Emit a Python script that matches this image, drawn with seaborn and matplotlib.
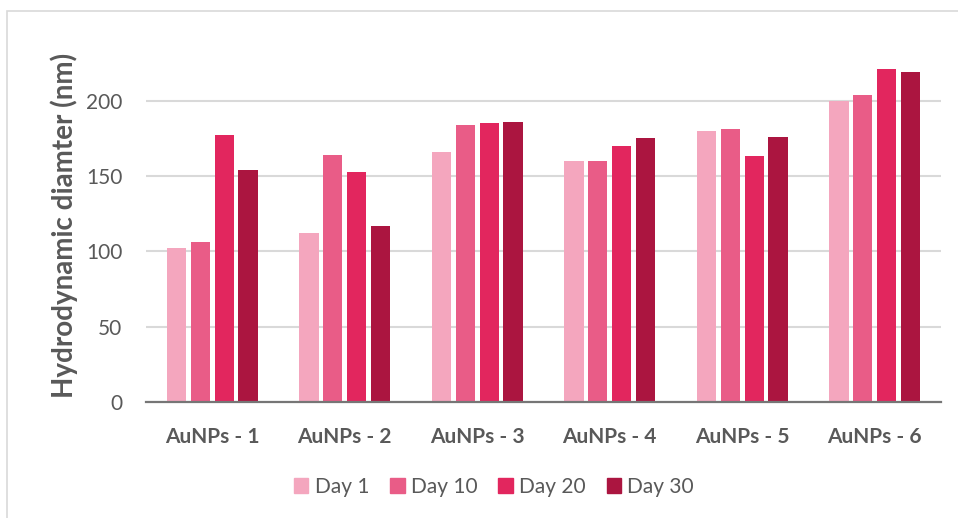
import matplotlib
matplotlib.use("Agg")
import matplotlib.pyplot as plt
import matplotlib.patches as mpatches
import seaborn as sns
import pandas as pd

# Hydrodynamic diameter (nm) of each AuNP sample over 30 days
samples = ["AuNPs - 1", "AuNPs - 2", "AuNPs - 3", "AuNPs - 4", "AuNPs - 5", "AuNPs - 6"]
days = ["Day 1", "Day 10", "Day 20", "Day 30"]
day1 = [102, 112, 166, 160, 180, 200]
day10 = [106, 164, 184, 160, 181, 204]
day20 = [177, 153, 185, 170, 163, 221]
day30 = [154, 117, 186, 175, 176, 219]
yticks = [0, 50, 100, 150, 200]

colors = ["#F4A6BE", "#E95C87", "#E2265E", "#AB1540"]
text_gray = "#595959"

sns.set_theme(style="white")
plt.rcParams["font.family"] = ["Lato", "DejaVu Sans"]

df = pd.DataFrame({
    "Sample": samples * 4,
    "Day": [d for d in days for _ in samples],
    "Diameter": day1 + day10 + day20 + day30,
})

fig = plt.figure(figsize=(9.58, 5.18), dpi=100)
ax = fig.add_axes([146 / 958, 116 / 518, (941 - 146) / 958, (402 - 48) / 518])

sns.barplot(data=df, x="Sample", y="Diameter", hue="Day", order=samples,
            hue_order=days, palette=colors, width=0.72, gap=0.2,
            linewidth=0, saturation=1, ax=ax, zorder=3)

ax.set_ylim(0, 235)
ax.set_yticks(yticks)
ax.set_xlim(-0.5, len(samples) - 0.5)
ax.yaxis.grid(True, color="#D9D9D9", linewidth=1.5, zorder=0)
ax.xaxis.grid(False)
ax.set_axisbelow(True)

for side in ["top", "right", "left"]:
    ax.spines[side].set_visible(False)
ax.spines["bottom"].set_color("#767676")
ax.spines["bottom"].set_linewidth(1.6)
ax.spines["bottom"].set_zorder(4)

ax.tick_params(axis="both", length=0)
ax.tick_params(axis="y", pad=17, labelsize=15, labelcolor=text_gray)
ax.tick_params(axis="x", pad=18, labelsize=15, labelcolor=text_gray)
for lbl in ax.get_xticklabels():
    lbl.set_fontweight("bold")

ax.set_xlabel("")
ax.set_ylabel("Hydrodynamic diamter (nm)", fontsize=20, fontweight="bold",
              color=text_gray)
ax.yaxis.set_label_coords(-0.086, 0.5)

ax.legend_.remove()
handles = [mpatches.Patch(color=c, label=d) for c, d in zip(colors, days)]
fig.legend(handles=handles, loc="center", bbox_to_anchor=(494 / 958, 1 - 487 / 518),
           ncol=4, frameon=False, fontsize=15, handlelength=0.7, handleheight=0.7,
           handletextpad=0.3, columnspacing=1.0, labelcolor=text_gray)

# light frame around the chart area
fig.patches.append(mpatches.Rectangle((7 / 958, -0.05), 1.1, 1 - 11 / 518 + 0.05,
                                      transform=fig.transFigure, fill=False,
                                      edgecolor="#D9D9D9", linewidth=1.2))

fig.savefig("out.png", dpi=100)
